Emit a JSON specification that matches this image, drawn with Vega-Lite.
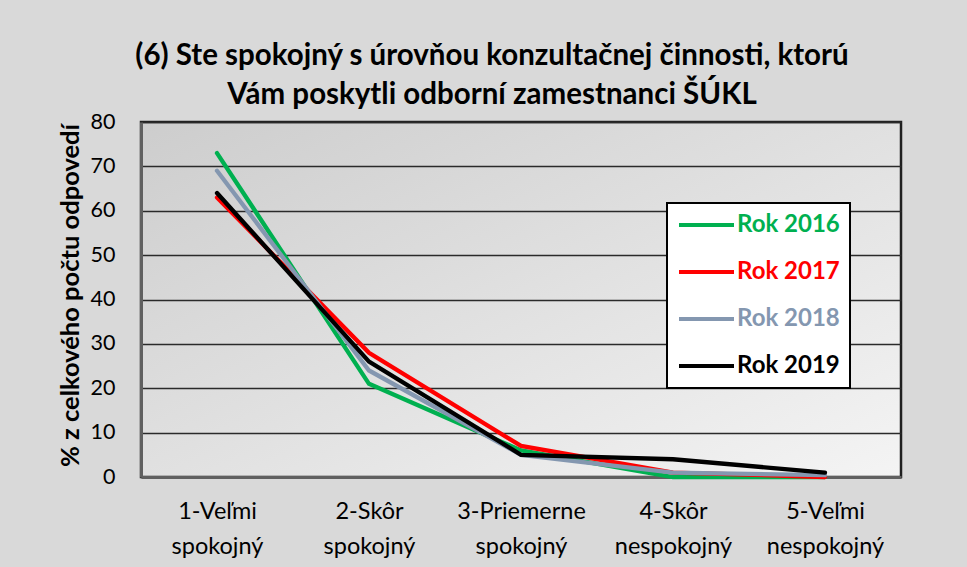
{
  "$schema": "https://vega.github.io/schema/vega-lite/v6.json",
  "autosize": {"type": "none"},
  "width": 760,
  "height": 355,
  "padding": {"left": 141, "top": 122, "right": 66, "bottom": 90},
  "background": "#d9d9d9",
  "title": {
    "text": ["(6) Ste spokojný s úrovňou konzultačnej činnosti, ktorú", "Vám poskytli odborní zamestnanci ŠÚKL"],
    "font": "Lato",
    "fontSize": 29.5,
    "fontWeight": "bold",
    "color": "#000000",
    "anchor": "middle",
    "frame": "group",
    "dx": -29,
    "lineHeight": 39,
    "offset": 1
  },
  "view": {
    "fill": {"gradient": "linear", "x1": 0, "y1": 0, "x2": 1, "y2": 1, "stops": [{"offset": 0, "color": "#cdcdcd"}, {"offset": 1, "color": "#f4f4f4"}]},
    "stroke": "#202020",
    "strokeWidth": 2.5
  },
  "data": {
    "values": [
      {"kat": "1-Veľmi spokojný", "rok": "Rok 2016", "v": 73},
      {"kat": "2-Skôr spokojný", "rok": "Rok 2016", "v": 21},
      {"kat": "3-Priemerne spokojný", "rok": "Rok 2016", "v": 6},
      {"kat": "4-Skôr nespokojný", "rok": "Rok 2016", "v": 0},
      {"kat": "5-Veľmi nespokojný", "rok": "Rok 2016", "v": 0},
      {"kat": "1-Veľmi spokojný", "rok": "Rok 2017", "v": 63},
      {"kat": "2-Skôr spokojný", "rok": "Rok 2017", "v": 28},
      {"kat": "3-Priemerne spokojný", "rok": "Rok 2017", "v": 7},
      {"kat": "4-Skôr nespokojný", "rok": "Rok 2017", "v": 1},
      {"kat": "5-Veľmi nespokojný", "rok": "Rok 2017", "v": 0},
      {"kat": "1-Veľmi spokojný", "rok": "Rok 2018", "v": 69},
      {"kat": "2-Skôr spokojný", "rok": "Rok 2018", "v": 24},
      {"kat": "3-Priemerne spokojný", "rok": "Rok 2018", "v": 5},
      {"kat": "4-Skôr nespokojný", "rok": "Rok 2018", "v": 1},
      {"kat": "5-Veľmi nespokojný", "rok": "Rok 2018", "v": 0.4},
      {"kat": "1-Veľmi spokojný", "rok": "Rok 2019", "v": 64},
      {"kat": "2-Skôr spokojný", "rok": "Rok 2019", "v": 26},
      {"kat": "3-Priemerne spokojný", "rok": "Rok 2019", "v": 5},
      {"kat": "4-Skôr nespokojný", "rok": "Rok 2019", "v": 4},
      {"kat": "5-Veľmi nespokojný", "rok": "Rok 2019", "v": 1}
    ]
  },
  "mark": {"type": "line", "strokeWidth": 4.3, "strokeCap": "round", "strokeJoin": "miter"},
  "encoding": {
    "x": {
      "field": "kat",
      "type": "ordinal",
      "scale": {"type": "point", "padding": 0.5},
      "axis": {
        "title": null,
        "labelAngle": 0,
        "labelExpr": "split(datum.label, ' ')",
        "labelFont": "Lato",
        "labelFontSize": 23.5,
        "labelColor": "#000000",
        "labelLineHeight": 35,
        "labelPadding": 22,
        "ticks": false,
        "domain": true,
        "domainColor": "#606060",
        "domainWidth": 3,
        "grid": false
      }
    },
    "y": {
      "field": "v",
      "type": "quantitative",
      "scale": {"domain": [0, 80], "nice": false},
      "axis": {
        "title": "% z celkového počtu odpovedí",
        "titleFont": "Lato",
        "titleFontSize": 25.5,
        "titleFontWeight": "bold",
        "titleColor": "#000000",
        "titleX": -71,
        "titleY": 173,
        "titleAngle": -90,
        "titleAlign": "center",
        "titleBaseline": "middle",
        "values": [0, 10, 20, 30, 40, 50, 60, 70, 80],
        "labelFont": "Lato",
        "labelFontSize": 21.5,
        "labelColor": "#000000",
        "labelPadding": 26,
        "ticks": false,
        "domain": true,
        "domainColor": "#606060",
        "domainWidth": 3,
        "grid": true,
        "gridColor": "#2a2a2a",
        "gridWidth": 1.3
      }
    },
    "color": {
      "field": "rok",
      "type": "nominal",
      "scale": {"domain": ["Rok 2016", "Rok 2017", "Rok 2018", "Rok 2019"], "range": ["#00b050", "#ff0000", "#8497b0", "#000000"]},
      "legend": {
        "title": null,
        "orient": "none",
        "legendX": 526,
        "legendY": 81,
        "padding": 10,
        "fillColor": "#ffffff",
        "strokeColor": "#000000",
        "symbolType": "M-1,0H4.5",
        "symbolSize": 400,
        "symbolStrokeWidth": 4,
        "rowPadding": 23,
        "labelOffset": 36,
        "labelFont": "Lato",
        "labelFontSize": 24,
        "labelFontWeight": "bold",
        "labelLimit": 200,
        "encode": {
          "labels": {"update": {"fill": {"signal": "scale('color', datum.value)"}}},
          "legend": {"update": {"strokeWidth": {"value": 2}}}
        }
      }
    }
  }
}
